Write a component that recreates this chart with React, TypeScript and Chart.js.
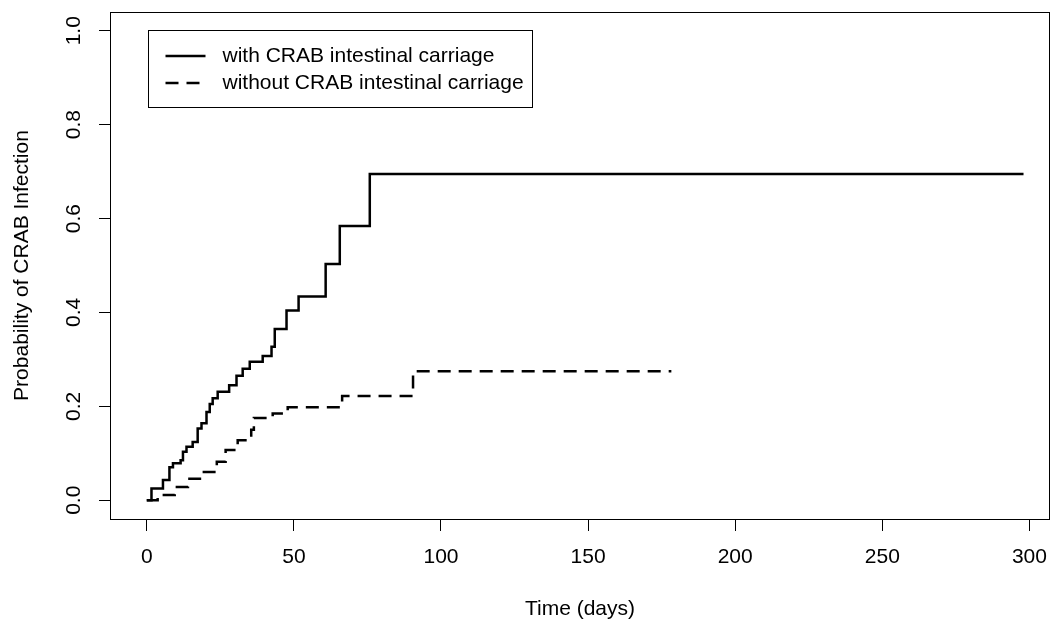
import React, { useEffect, useRef } from "react";
import { Chart, registerables } from "chart.js";

Chart.register(...registerables);

// Kaplan-Meier style cumulative incidence (time in days, probability)
const withTimes = [0, 1.6, 5.5, 7.7, 8.9, 11.5, 12.3, 13.5, 15.6, 17.3, 18.6, 20.3, 21.4, 22.4, 24.1, 28.0, 30.5, 32.6, 35.0, 39.4, 42.4, 43.5, 47.5, 51.6, 60.8, 65.6, 75.8, 298];
const withProb = [0, 0.025, 0.043, 0.07, 0.079, 0.085, 0.103, 0.114, 0.124, 0.153, 0.164, 0.188, 0.205, 0.217, 0.231, 0.245, 0.265, 0.28, 0.295, 0.307, 0.327, 0.365, 0.404, 0.434, 0.503, 0.584, 0.695, 0.695];

const withoutTimes = [0, 3.7, 9.5, 14, 19.4, 23.8, 26.8, 30.9, 35.5, 36.4, 42.8, 47.9, 66.4, 90.5, 178.3];
const withoutProb = [0, 0.011, 0.028, 0.046, 0.06, 0.082, 0.107, 0.128, 0.15, 0.175, 0.185, 0.198, 0.222, 0.275, 0.275];

const seriesLabels = ["with CRAB intestinal carriage", "without CRAB intestinal carriage"];

const xTicks = [0, 50, 100, 150, 200, 250, 300];
const yTicks = [0, 0.2, 0.4, 0.6, 0.8, 1.0];
const xTitle = "Time (days)";
const yTitle = "Probability of CRAB Infection";

const FONT_FAMILY = '"Liberation Sans", Arial, Helvetica, sans-serif';
const FONT_SIZE = 21;

const boxPlugin = {
  id: "frameBox",
  afterDraw(chart: any) {
    const { ctx, chartArea } = chart;
    ctx.save();
    ctx.strokeStyle = "#000";
    ctx.lineWidth = 1;
    ctx.setLineDash([]);
    const l = Math.round(chartArea.left) + 0.5;
    const t = Math.round(chartArea.top) + 0.5;
    const r = Math.round(chartArea.right) - 0.5;
    const b = Math.round(chartArea.bottom) + 0.5;
    ctx.strokeRect(l, t, r - l, b - t);
    ctx.restore();
  },
};

const legendPlugin = {
  id: "boxLegend",
  afterDraw(chart: any) {
    const { ctx, chartArea } = chart;
    const x0 = Math.round(chartArea.left + 38) + 0.5;
    const y0 = Math.round(chartArea.top + 18) + 0.5;
    const w = 384;
    const h = 77;
    ctx.save();
    ctx.strokeStyle = "#000";
    ctx.lineWidth = 1;
    ctx.setLineDash([]);
    ctx.strokeRect(x0, y0, w, h);
    chart.data.datasets.forEach((ds: any, i: number) => {
      const y = Math.round(y0 + 25 + i * 27);
      ctx.beginPath();
      ctx.setLineDash(ds.borderDash || []);
      ctx.lineWidth = ds.borderWidth;
      ctx.strokeStyle = ds.borderColor;
      ctx.moveTo(x0 + 17, y);
      ctx.lineTo(x0 + 57, y);
      ctx.stroke();
      ctx.setLineDash([]);
      ctx.fillStyle = "#000";
      ctx.font = `${FONT_SIZE}px ${FONT_FAMILY}`;
      ctx.textBaseline = "middle";
      ctx.textAlign = "left";
      ctx.fillText(ds.label, x0 + 74, y);
    });
    ctx.restore();
  },
};

export default function App() {
  const canvasRef = useRef<HTMLCanvasElement | null>(null);

  useEffect(() => {
    const canvas = canvasRef.current;
    if (!canvas) return;
    const chart = new Chart(canvas, {
      type: "line",
      data: {
        datasets: [
          {
            label: seriesLabels[0],
            data: withTimes.map((t, i) => ({ x: t, y: withProb[i] })),
            borderColor: "#000",
            borderWidth: 2.5,
            stepped: "before",
            pointRadius: 0,
            fill: false,
            borderCapStyle: "butt",
          },
          {
            label: seriesLabels[1],
            data: withoutTimes.map((t, i) => ({ x: t, y: withoutProb[i] })),
            borderColor: "#000",
            borderWidth: 2.5,
            borderDash: [13, 8],
            stepped: "before",
            pointRadius: 0,
            fill: false,
            borderCapStyle: "butt",
          },
        ],
      },
      options: {
        animation: false,
        responsive: false,
        maintainAspectRatio: false,
        layout: { padding: { top: 12, right: 2, left: 0, bottom: 0 } },
        plugins: {
          legend: { display: false },
          tooltip: { enabled: false },
        },
        scales: {
          x: {
            type: "linear",
            min: -12.5,
            max: 307,
            afterBuildTicks: (scale: any) => {
              scale.ticks = xTicks.map((v) => ({ value: v }));
            },
            afterFit: (scale: any) => {
              scale.height = 105;
              scale.paddingLeft = 0;
              scale.paddingRight = 0;
            },
            grid: {
              drawOnChartArea: false,
              drawTicks: true,
              tickLength: 12,
              color: "#000",
              tickColor: "#000",
            },
            border: { display: false },
            ticks: {
              color: "#000",
              padding: 14,
              maxRotation: 0,
              minRotation: 0,
              autoSkip: false,
              font: { family: FONT_FAMILY, size: FONT_SIZE },
              callback: (v: any) => String(v),
            },
            title: {
              display: true,
              text: xTitle,
              color: "#000",
              font: { family: FONT_FAMILY, size: FONT_SIZE },
              padding: { top: 0, bottom: 2 },
            },
          },
          y: {
            type: "linear",
            min: -0.04,
            max: 1.04,
            afterBuildTicks: (scale: any) => {
              scale.ticks = yTicks.map((v) => ({ value: v }));
            },
            afterFit: (scale: any) => {
              scale.width = 110;
              scale.paddingTop = 0;
              scale.paddingBottom = 0;
            },
            grid: {
              drawOnChartArea: false,
              drawTicks: true,
              tickLength: 11,
              color: "#000",
              tickColor: "#000",
            },
            border: { display: false },
            ticks: {
              color: "#000",
              padding: 10,
              minRotation: 90,
              maxRotation: 90,
              crossAlign: "center",
              autoSkip: false,
              font: { family: FONT_FAMILY, size: FONT_SIZE },
              callback: (v: any) => Number(v).toFixed(1),
            },
            title: {
              display: true,
              text: yTitle,
              color: "#000",
              font: { family: FONT_FAMILY, size: FONT_SIZE },
              padding: { top: 10, bottom: 0 },
            },
          },
        },
      },
      plugins: [boxPlugin, legendPlugin],
    } as any);
    return () => chart.destroy();
  }, []);

  return (
    <div style={{ position: "absolute", left: 0, top: 0, width: 1052, height: 624, background: "#fff" }}>
      <canvas ref={canvasRef} width={1052} height={624} style={{ display: "block" }} />
    </div>
  );
}
